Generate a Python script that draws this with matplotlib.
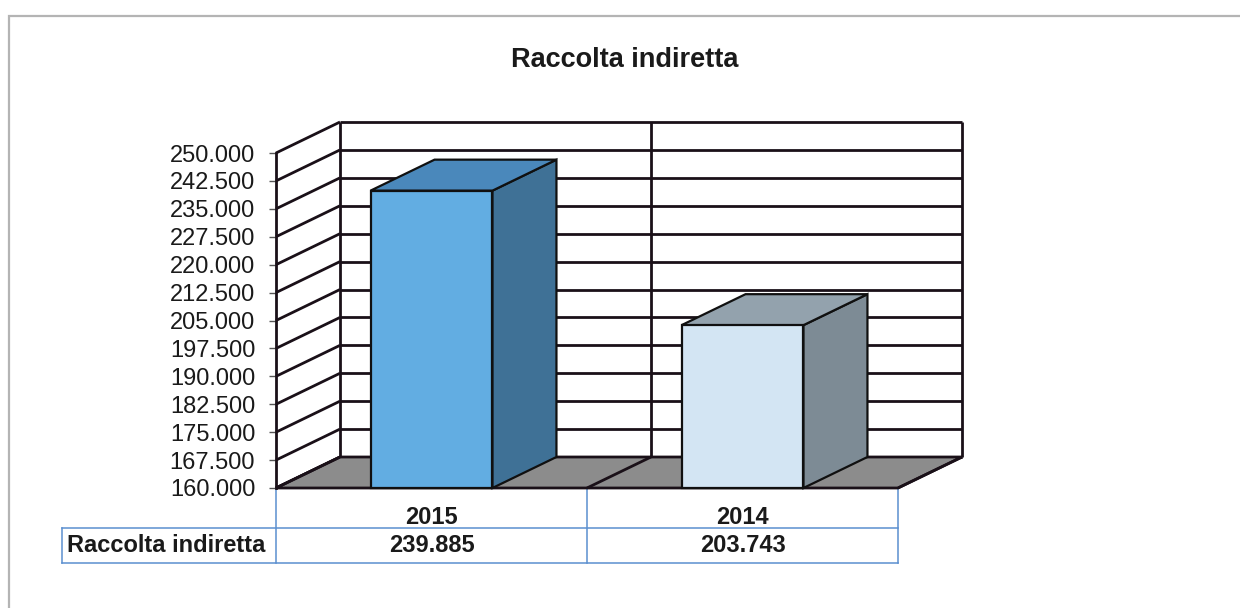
import matplotlib
matplotlib.use("Agg")
import matplotlib.pyplot as plt
import matplotlib.transforms as mtransforms
from matplotlib.patches import Rectangle
import numpy as np

plt.rcParams["font.family"] = ["Liberation Sans", "DejaVu Sans"]

# --- data ---
title = "Raccolta indiretta"
series_name = "Raccolta indiretta"
years = ["2015", "2014"]
values = [239885, 203743]
y_min, y_max, y_step = 160000, 250000, 7500

front_colors = ["#62ade2", "#d3e5f3"]
top_colors = ["#4a88bb", "#93a2ad"]
side_colors = ["#3f7196", "#7d8b95"]

W, H = 1240, 608
fig = plt.figure(figsize=(W / 100, H / 100), dpi=100)


def fx(px):
    return px / W


def fy(py):
    return 1 - py / H


# outer chart frame (runs off right / bottom edges)
fig.patches.append(Rectangle((fx(9), fy(620)), fx(1250) - fx(9), fy(16) - fy(620),
                             transform=fig.transFigure, fill=False,
                             edgecolor="#b4b4b4", lw=1.6))

fig.text(fx(625), fy(60), title, ha="center", va="center",
         fontsize=19.5, fontweight="bold", color="#1a1a1a")

# front plane of the 3d box
ax = fig.add_axes([fx(276), fy(488), fx(898) - fx(276), fy(153) - fy(488)])
ax.set_xlim(0, len(years))
ax.set_ylim(y_min, y_max)
ax.patch.set_visible(False)
for s in ["top", "right", "bottom"]:
    ax.spines[s].set_visible(False)
ax.spines["left"].set_linewidth(2.0)
ax.spines["left"].set_color("#1a1018")

ticks = np.arange(y_min, y_max + 1, y_step)
ax.set_yticks(ticks)
ax.set_yticklabels([f"{t:,.0f}".replace(",", ".") for t in ticks], fontsize=17, color="#1a1a1a")
ax.tick_params(axis="y", length=5, width=1.0, color="#555555", pad=10)
ax.set_xticks([])

# depth offset of the box, in data units
DX = 64 / 311
DY = 31 / 335 * (y_max - y_min)
ncat = len(years)
grid_kw = dict(color="#1a1018", lw=2.0, clip_on=False, solid_capstyle="butt")

# back wall + left side wall
ax.fill([DX, ncat + DX, ncat + DX, DX], [y_min + DY, y_min + DY, y_max + DY, y_max + DY],
        color="white", clip_on=False, zorder=1)
for t in ticks:
    ax.plot([DX, ncat + DX], [t + DY, t + DY], zorder=2, **grid_kw)
    ax.plot([0, DX], [t, t + DY], zorder=2, **grid_kw)
for k in range(ncat + 1):
    ax.plot([k + DX, k + DX], [y_min + DY, y_max + DY], zorder=2, **grid_kw)

# floor
ax.fill([0, ncat, ncat + DX, DX], [y_min, y_min, y_min + DY, y_min + DY],
        facecolor="#8c8c8c", edgecolor="#1a1018", lw=2.0, clip_on=False, zorder=3)
for k in range(ncat + 1):
    ax.plot([k, k + DX], [y_min, y_min + DY], zorder=3, **grid_kw)

# bars
hw = 0.196
edge_kw = dict(edgecolor="#101010", lw=1.6, clip_on=False, joinstyle="miter")
for i, v in enumerate(values):
    c = i + 0.5
    ax.fill([c + hw, c + hw + DX, c + hw + DX, c + hw],
            [y_min, y_min + DY, v + DY, v], facecolor=side_colors[i], zorder=5, **edge_kw)
    ax.fill([c - hw, c + hw, c + hw + DX, c - hw + DX],
            [v, v, v + DY, v + DY], facecolor=top_colors[i], zorder=5, **edge_kw)
    ax.fill([c - hw, c + hw, c + hw, c - hw],
            [y_min, y_min, v, v], facecolor=front_colors[i], zorder=6, **edge_kw)

# data table under the plot
tr = mtransforms.blended_transform_factory(ax.transData, ax.transAxes)
tbl_kw = dict(color="#5b8fd0", lw=1.1, clip_on=False, transform=tr)
row_top = -40 / 335
row_bot = -75 / 335
label_left = -214 / 311
ax.plot([label_left, ncat], [row_top, row_top], **tbl_kw)
ax.plot([label_left, ncat], [row_bot, row_bot], **tbl_kw)
ax.plot([label_left, label_left], [row_top, row_bot], **tbl_kw)
for k in range(ncat + 1):
    ax.plot([k, k], [0, row_bot], **tbl_kw)

for i, (yr, v) in enumerate(zip(years, values)):
    ax.text(i + 0.5, -29 / 335, yr, transform=tr, ha="center", va="center",
            fontsize=17, fontweight="bold", color="#1a1a1a")
    ax.text(i + 0.5, (row_top + row_bot) / 2, f"{v:,.0f}".replace(",", "."), transform=tr,
            ha="center", va="center", fontsize=17, fontweight="bold", color="#1a1a1a")
ax.text(label_left + 5 / 311, (row_top + row_bot) / 2, series_name, transform=tr,
        ha="left", va="center", fontsize=17, fontweight="bold", color="#1a1a1a")

fig.savefig("out.png", dpi=100, facecolor="white")
